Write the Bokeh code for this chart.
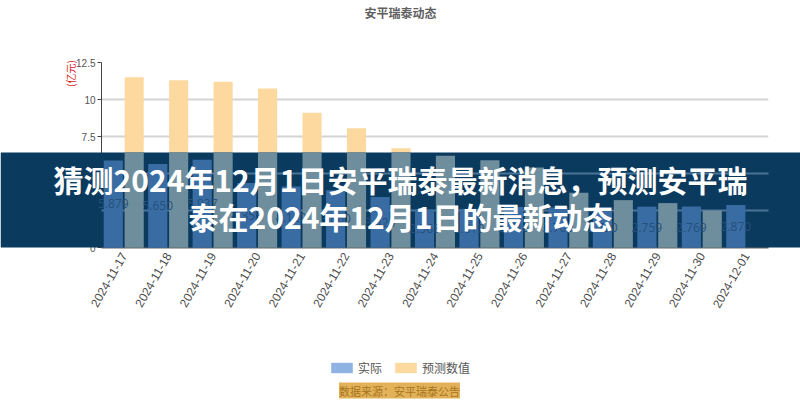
import math
import numpy as np
from bokeh.plotting import figure
from bokeh.models import (FactorRange, Range1d, FixedTicker, BoxAnnotation, Label,
                          Legend, LegendItem, ColumnDataSource)
from bokeh.core.properties import value
from bokeh.embed import file_html
from bokeh.resources import INLINE

# ---------------- data ----------------
categories = ["2024-11-17", "2024-11-18", "2024-11-19", "2024-11-20", "2024-11-21",
              "2024-11-22", "2024-11-23", "2024-11-24", "2024-11-25", "2024-11-26",
              "2024-11-27", "2024-11-28", "2024-11-29", "2024-11-30", "2024-12-01"]
actual = [5.879, 5.650, 5.937, 4.358, 4.120, 3.860, 3.420, 2.568, 2.610, 2.740,
          2.700, 2.720, 2.759, 2.769, 2.870]
forecast = [11.50, 11.30, 11.20, 10.75, 9.10, 8.05, 6.70, 6.20, 5.90, 5.40,
            3.70, 3.20, 3.00, 2.50, 0.0]
series_names = ["实际", "预测数值"]
y_ticks = [0, 2.5, 5, 7.5, 10, 12.5]
y_tick_labels = ["0", "2.5", "5", "7.5", "10", "12.5"]
chart_title = "安平瑞泰动态"
y_title = "(亿元)"
banner_lines = ["猜测2024年12月1日安平瑞泰最新消息，预测安平瑞",
                "泰在2024年12月1日的最新动态"]
source_note = "数据来源：安平瑞泰公告"

# ---------------- layout ----------------
W, H = 800, 400
FL, FR, FT, FB = 101, 32, 62, 153           # borders around the plotting frame
FRAME_BOTTOM = H - FB                        # frame bottom, px from top
BANNER_TOP_PX = 152                          # banner top, px from top
N = len(categories)
Y_MAX = y_ticks[-1]
px_per_unit = (H - FT - FB) / Y_MAX
cat_w = (W - FL - FR) / N
banner_top_value = (FRAME_BOTTOM - BANNER_TOP_PX) / px_per_unit
PIN = {"position": "absolute", "left": "0px", "top": "0px"}

BW = 0.43
OFF = 0.235

actual_arr = np.array(actual)
forecast_arr = np.array(forecast)
idx = np.arange(N) + 0.5          # category centres on the categorical axis scale
src = ColumnDataSource(dict(
    cat=categories, xa=idx - OFF, xf=idx + OFF,
    actual=actual_arr, forecast=forecast_arr,
    actual_in=np.minimum(actual_arr, banner_top_value),
    forecast_in=np.minimum(forecast_arr, banner_top_value),
    actual_mid=actual_arr / 2,
    actual_txt=[f"{v:.3f}" for v in actual],
))

# ---------------- axes layer ----------------
p = figure(width=W, height=H, x_range=FactorRange(*categories), y_range=Range1d(0, Y_MAX),
           output_backend="svg", toolbar_location=None,
           min_border_left=FL, min_border_right=FR, min_border_top=FT, min_border_bottom=FB,
           styles=PIN)
p.background_fill_color = "white"
p.border_fill_color = "white"
p.outline_line_color = None

p.xaxis.axis_line_color = "#666666"
p.xaxis.axis_line_width = 2
p.xaxis.major_tick_line_color = None
p.xaxis.major_tick_out = 0
p.xaxis.minor_tick_line_color = None
p.xaxis.major_label_orientation = math.pi / 3
p.xaxis.major_label_standoff = 6
p.xaxis.major_label_text_font_size = "12px"
p.xaxis.major_label_text_color = "#4d4d4d"
p.xaxis.major_label_text_font = "Liberation Sans"

p.yaxis.ticker = FixedTicker(ticks=y_ticks)
p.yaxis.major_label_overrides = {t: l for t, l in zip(y_ticks, y_tick_labels)}
p.yaxis.axis_line_color = "#444444"
p.yaxis.major_tick_line_color = "#444444"
p.yaxis.major_tick_out = 4
p.yaxis.major_tick_in = 0
p.yaxis.minor_tick_line_color = None
p.yaxis.major_label_text_font_size = "10px"
p.yaxis.major_label_text_color = "#555555"
p.yaxis.major_label_standoff = 2

p.xgrid.grid_line_color = None
p.ygrid.ticker = FixedTicker(ticks=y_ticks)
p.ygrid.grid_line_color = "#d4d4d4"
p.ygrid.grid_line_width = 2

# ---------------- marks + banner layer (full-canvas frame, same scales) ----------------
o = figure(width=W, height=H, x_range=Range1d(-FL / cat_w, N + FR / cat_w),
           y_range=Range1d(-FB / px_per_unit, Y_MAX + FT / px_per_unit),
           x_axis_location=None, y_axis_location=None, min_border=0,
           output_backend="svg", toolbar_location=None, styles=PIN)
o.background_fill_alpha = 0
o.border_fill_alpha = 0
o.outline_line_color = None
o.grid.visible = False

blue_r = o.vbar(x="xa", top="actual", width=BW, source=src,
                fill_color="#8eb3e3", line_color=None)
orange_r = o.vbar(x="xf", top="forecast", width=BW, source=src,
                  fill_color="#fdd9a0", line_color=None)

o.add_layout(BoxAnnotation(bottom=0, top=banner_top_value, fill_color="#0b3a5f",
                           fill_alpha=1.0, line_color=None))
in_banner_ticks = [t for t in y_ticks if 0 < t < banner_top_value]
o.segment(x0=[0] * len(in_banner_ticks), x1=[N] * len(in_banner_ticks),
          y0=in_banner_ticks, y1=in_banner_ticks, line_color="#4b7395", line_width=2,
          level="overlay")
o.vbar(x="xa", top="actual_in", width=BW, source=src, fill_color="#3a6ca4",
       line_color=None, level="overlay")
o.vbar(x="xf", top="forecast_in", width=BW, source=src, fill_color="#6f8e9d",
       line_color=None, level="overlay")
o.text(x="xa", y="actual_mid", text="actual_txt", source=src,
       text_align="center", text_baseline="middle", text_font_size="12px",
       text_color="#23507c", text_font=value("Open Sans"), level="overlay")

for line, cy in zip(banner_lines, [178, 215]):
    o.add_layout(Label(x=400, y=H - cy, x_units="screen", y_units="screen",
                       text=line, text_align="center", text_baseline="middle",
                       text_font_size="30px", text_font_style="bold", text_color="white",
                       text_font="Noto Sans CJK SC", level="overlay"))

o.add_layout(Label(x=400, y=H - 12, x_units="screen", y_units="screen", text=chart_title,
                   text_align="center", text_baseline="middle", text_font_size="12px",
                   text_font_style="bold", text_color="#5f5f5f", text_font="Noto Sans CJK SC"))
o.add_layout(Label(x=70, y=H - 73, x_units="screen", y_units="screen", text=y_title,
                   angle=math.pi / 2, text_align="center", text_baseline="middle",
                   text_font_size="10px", text_color="#d7191c", text_font="Noto Sans CJK SC"))
o.add_layout(Label(x=399, y=H - 390, x_units="screen", y_units="screen", text=source_note,
                   text_align="center", text_baseline="middle", text_font_size="11px",
                   text_color="#a8741c", background_fill_color="#e2b25a",
                   text_font="Noto Sans CJK SC"))

legend = Legend(items=[LegendItem(label=series_names[0], renderers=[blue_r]),
                       LegendItem(label=series_names[1], renderers=[orange_r])],
                location=(328, 24), orientation="horizontal",
                glyph_width=27, glyph_height=13, label_standoff=3, spacing=10,
                padding=0, margin=0, border_line_color=None, background_fill_alpha=0,
                label_text_font_size="12px", label_text_color="#555555",
                label_text_font="Noto Sans CJK SC", label_height=13)
o.add_layout(legend)

open("out.html", "w").write(file_html([p, o], INLINE))
